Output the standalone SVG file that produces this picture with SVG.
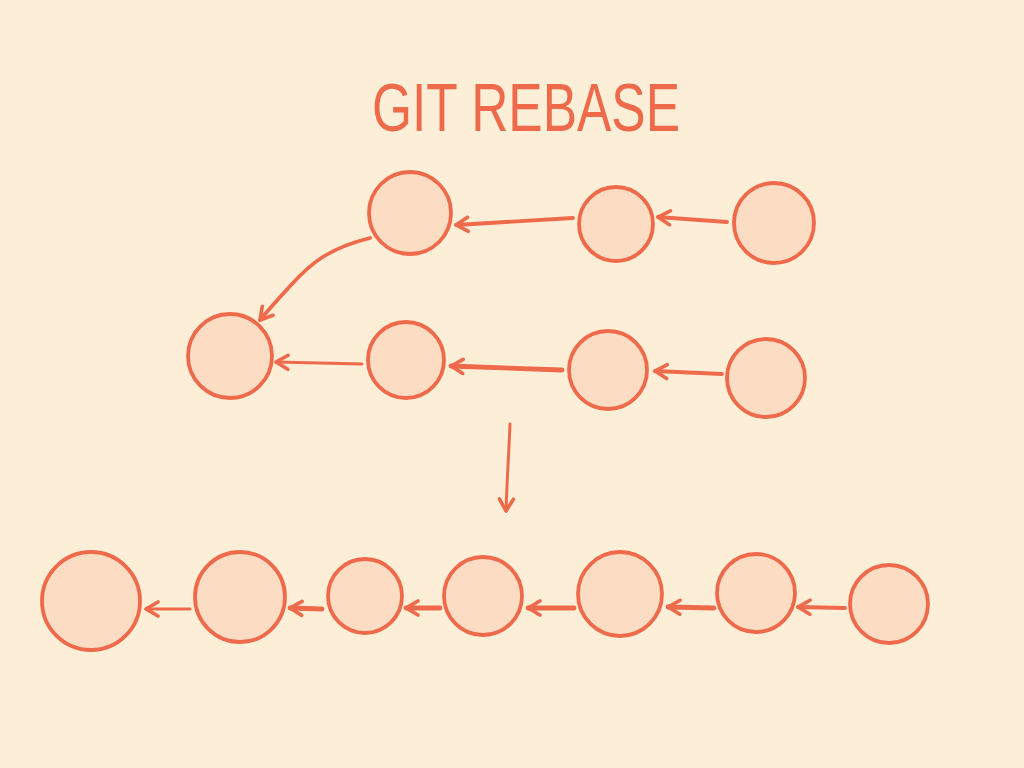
<svg xmlns="http://www.w3.org/2000/svg" width="1024" height="768" viewBox="0 0 1024 768">
<defs>
<style>
.bg{fill:#FDEFD7}
.node circle{fill:#FCDDC3;stroke:#EE6A4B;stroke-width:3.8}
.c{fill:none;stroke:#EE6A4B;stroke-linecap:round;stroke-linejoin:round}
.t{stroke-width:3}
.m{stroke-width:3.8}
.k{stroke-width:4.8}
.title{font-family:"Liberation Sans Narrow","Liberation Sans",sans-serif;font-size:68px;fill:#EE6A4B;font-weight:normal}
</style>
<marker id="ah" markerUnits="userSpaceOnUse" viewBox="-16 -10 20 20" refX="0" refY="0" markerWidth="20" markerHeight="20" orient="auto">
<path d="M-12,-7 L0,0 L-12,7" fill="none" stroke="#EE6A4B" stroke-width="3.6" stroke-linecap="round" stroke-linejoin="round"/>
</marker>
</defs>
<rect class="bg" x="0" y="0" width="1024" height="768"/>
<text class="title" x="372" y="131" textLength="308" lengthAdjust="spacingAndGlyphs">GIT REBASE</text>
<g id="connectors">
<path class="c m" d="M573,218 L456,225" marker-end="url(#ah)"/>
<path class="c m" d="M727,222 L658,217" marker-end="url(#ah)"/>
<path class="c m" d="M370,238 C330,248 312,262 292,284 C280,297 270,308 260,320" marker-end="url(#ah)"/>
<path class="c t" d="M362,364 L276,362" marker-end="url(#ah)"/>
<path class="c k" d="M562,370 L451,366" marker-end="url(#ah)"/>
<path class="c m" d="M722,374 L655,371" marker-end="url(#ah)"/>
<path class="c t" d="M510,424 C509,450 507,480 506,511" marker-end="url(#ah)"/>
<path class="c t" d="M190,609 L146,609" marker-end="url(#ah)"/>
<path class="c k" d="M322,609 L290,608" marker-end="url(#ah)"/>
<path class="c k" d="M440,608 L406,608" marker-end="url(#ah)"/>
<path class="c k" d="M574,608 L528,608" marker-end="url(#ah)"/>
<path class="c k" d="M714,608 L668,607" marker-end="url(#ah)"/>
<path class="c m" d="M845,608 L798,607" marker-end="url(#ah)"/>
</g>
<g id="n1" class="node"><circle cx="410" cy="213" r="41"/></g>
<g id="n2" class="node"><circle cx="616" cy="224" r="37"/></g>
<g id="n3" class="node"><circle cx="774" cy="223" r="40"/></g>
<g id="n4" class="node"><circle cx="230" cy="356" r="42"/></g>
<g id="n5" class="node"><circle cx="406" cy="360" r="38"/></g>
<g id="n6" class="node"><circle cx="608" cy="370" r="39"/></g>
<g id="n7" class="node"><circle cx="766" cy="378" r="39"/></g>
<g id="b1" class="node"><circle cx="91" cy="601" r="49"/></g>
<g id="b2" class="node"><circle cx="240" cy="597" r="45"/></g>
<g id="b3" class="node"><circle cx="365" cy="596" r="37"/></g>
<g id="b4" class="node"><circle cx="483" cy="596" r="39"/></g>
<g id="b5" class="node"><circle cx="620" cy="594" r="42"/></g>
<g id="b6" class="node"><circle cx="756" cy="593" r="39"/></g>
<g id="b7" class="node"><circle cx="889" cy="604" r="39"/></g>
</svg>
